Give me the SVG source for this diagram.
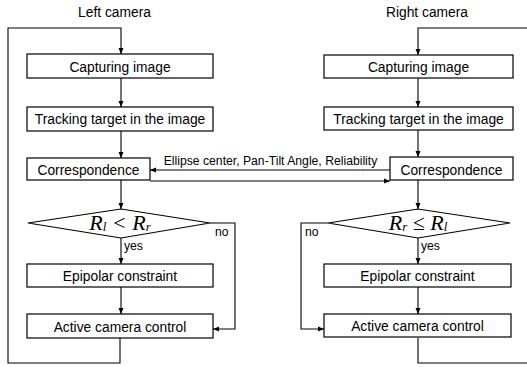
<svg xmlns="http://www.w3.org/2000/svg" width="527" height="367" viewBox="0 0 527 367">
<style>
.box{fill:#fff;stroke:#000;stroke-width:1.2}
.t{font-family:"Liberation Sans",Arial,sans-serif;font-size:13.8px;fill:#000;text-anchor:middle}
.s{font-family:"Liberation Sans",Arial,sans-serif;font-size:12.2px;fill:#000}
.m{font-family:"Liberation Serif","Times New Roman",serif;font-style:italic;font-size:22px;fill:#000;text-anchor:middle}
.c{fill:none;stroke:#000;stroke-width:1.1}
</style>
<defs>
<marker id="a" markerUnits="userSpaceOnUse" markerWidth="7" markerHeight="6" refX="6" refY="3" orient="auto">
<path d="M0,0.5 L6,3 L0,5.5 z" fill="#000"/>
</marker>
</defs>
<text class="t" x="114.5" y="17">Left camera</text>
<text class="t" x="427" y="17">Right camera</text>
<g id="connectors">
<path class="c" d="M120,338 V363 H8 V28 H121 V54" marker-end="url(#a)"/>
<path class="c" d="M121,78 V107" marker-end="url(#a)"/>
<path class="c" d="M121,131 V158" marker-end="url(#a)"/>
<path class="c" d="M121,180 V209" marker-end="url(#a)"/>
<path class="c" d="M121,238 V264" marker-end="url(#a)"/>
<path class="c" d="M121,287 V314" marker-end="url(#a)"/>
<path class="c" d="M210,223 H235 V329 H213" marker-end="url(#a)"/>
<path class="c" d="M418,338 V363 H528 V28 H418 V55" marker-end="url(#a)"/>
<path class="c" d="M418,78 V107" marker-end="url(#a)"/>
<path class="c" d="M418,130 V157" marker-end="url(#a)"/>
<path class="c" d="M418,180 V209" marker-end="url(#a)"/>
<path class="c" d="M418,238 V264" marker-end="url(#a)"/>
<path class="c" d="M418,287 V314" marker-end="url(#a)"/>
<path class="c" d="M328,223 H301 V329 H324" marker-end="url(#a)"/>
<path class="c" d="M390,170 H150" marker-end="url(#a)"/>
<path class="c" d="M150,181 H390" marker-end="url(#a)"/>
<text class="s" x="270.5" y="165" text-anchor="middle">Ellipse center, Pan-Tilt Angle, Reliability</text>
<text class="s" x="215" y="236">no</text>
<text class="s" x="124" y="250">yes</text>
<text class="s" x="305" y="236">no</text>
<text class="s" x="421" y="250">yes</text>
</g>
<g id="left-capture"><rect class="box" x="27" y="54" width="186" height="24"/><text class="t" x="120" y="72">Capturing image</text></g>
<g id="left-track"><rect class="box" x="27" y="107" width="186" height="24"/><text class="t" x="120" y="124">Tracking target in the image</text></g>
<g id="left-corr"><rect class="box" x="27" y="158" width="123" height="22"/><text class="t" x="88.5" y="175">Correspondence</text></g>
<g id="left-decision"><path class="box" d="M28,223 L121,209 L210,223 L121,238 Z"/><text class="m" x="120" y="230">R<tspan font-size="13" dy="1">l</tspan><tspan dy="-1"> &lt; R</tspan><tspan font-size="13" dy="1">r</tspan></text></g>
<g id="left-epipolar"><rect class="box" x="27" y="264" width="186" height="23"/><text class="t" x="120" y="281">Epipolar constraint</text></g>
<g id="left-active"><rect class="box" x="27" y="314" width="186" height="24"/><text class="t" x="120" y="332">Active camera control</text></g>
<g id="right-capture"><rect class="box" x="324" y="55" width="189" height="23"/><text class="t" x="418.5" y="72">Capturing image</text></g>
<g id="right-track"><rect class="box" x="324" y="107" width="189" height="23"/><text class="t" x="418.5" y="124">Tracking target in the image</text></g>
<g id="right-corr"><rect class="box" x="390" y="157" width="123" height="23"/><text class="t" x="451.5" y="175">Correspondence</text></g>
<g id="right-decision"><path class="box" d="M328,223 L418,209 L510,223 L418,238 Z"/><text class="m" x="418" y="230">R<tspan font-size="13" dy="1">r</tspan><tspan dy="-1"> ≤ R</tspan><tspan font-size="13" dy="1">l</tspan></text></g>
<g id="right-epipolar"><rect class="box" x="324" y="264" width="187" height="23"/><text class="t" x="417.5" y="281">Epipolar constraint</text></g>
<g id="right-active"><rect class="box" x="324" y="314" width="187" height="23"/><text class="t" x="417.5" y="331">Active camera control</text></g>
</svg>
